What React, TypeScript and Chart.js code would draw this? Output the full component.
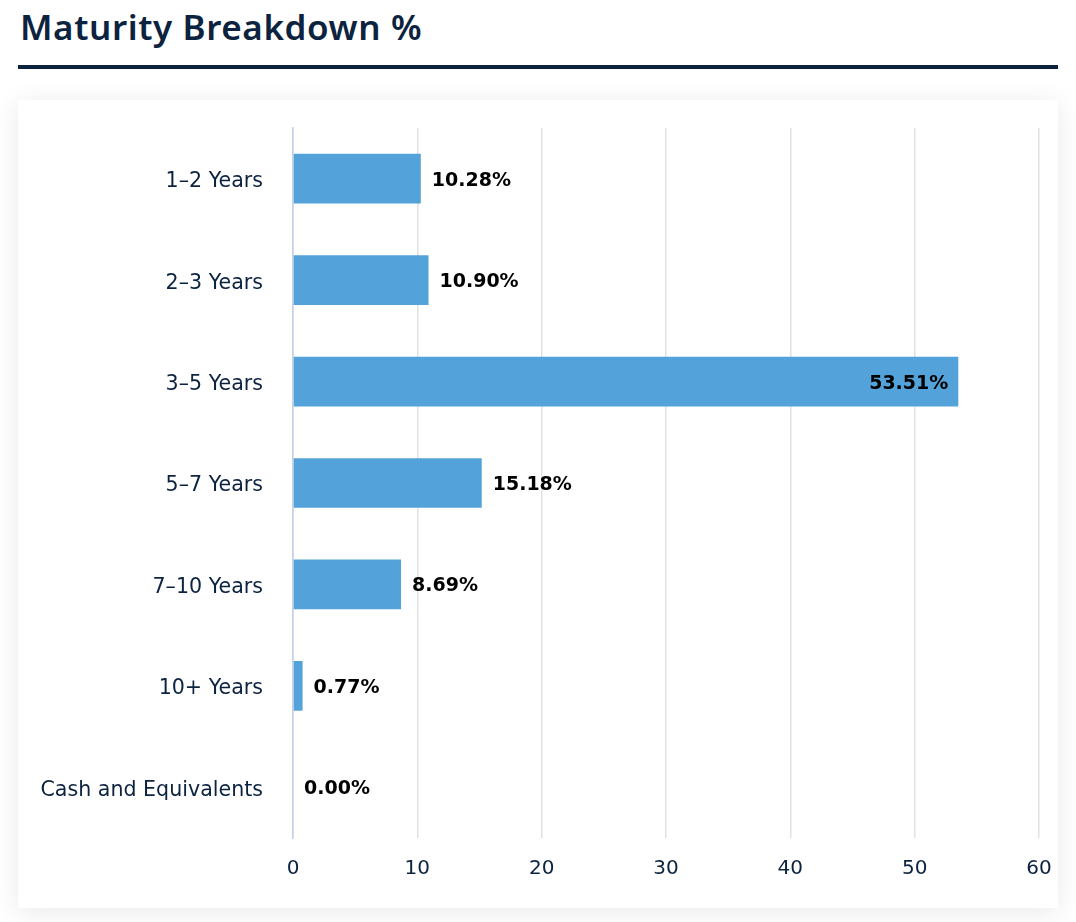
import React, { useEffect, useRef } from "react";
import { Chart, registerables } from "chart.js";

Chart.register(...registerables);

const categories = [
  "1–2 Years",
  "2–3 Years",
  "3–5 Years",
  "5–7 Years",
  "7–10 Years",
  "10+ Years",
  "Cash and Equivalents",
];
const values = [10.28, 10.9, 53.51, 15.18, 8.69, 0.77, 0.0];
const xMin = 0;
const xMax = 60;
const xStep = 10;

const NAVY = "#0c2340";
const BAR = "#53a3da";
const AXIS_FONT = "'DejaVu Sans', sans-serif";
const TITLE_FONT = "'Noto Sans', sans-serif";

const labelPlugin = {
  id: "valueLabels",
  afterDatasetsDraw(chart: any) {
    const { ctx, chartArea } = chart;
    const meta = chart.getDatasetMeta(0);
    ctx.save();
    ctx.font = "bold 19px " + AXIS_FONT;
    ctx.fillStyle = "#000";
    ctx.textBaseline = "middle";
    meta.data.forEach((bar: any, i: number) => {
      const text = values[i].toFixed(2) + "%";
      const w = ctx.measureText(text).width;
      const { x, y } = bar.getProps(["x", "y"], true);
      const gap = 11;
      if (x + gap + w > chartArea.right) {
        ctx.textAlign = "right";
        ctx.fillText(text, x - 10, y + 2);
      } else {
        ctx.textAlign = "left";
        ctx.fillText(text, x + gap, y + 2);
      }
    });
    ctx.restore();
  },
};

export default function App() {
  const ref = useRef<HTMLCanvasElement | null>(null);

  useEffect(() => {
    if (!ref.current) return;
    const chart = new Chart(ref.current, {
      type: "bar",
      data: {
        labels: categories,
        datasets: [
          {
            data: values,
            backgroundColor: BAR,
            borderWidth: 0,
            barPercentage: 0.49,
            categoryPercentage: 1,
          },
        ],
      },
      options: {
        indexAxis: "y",
        responsive: false,
        animation: false,
        devicePixelRatio: 1,
        layout: { padding: { left: 0, right: 19, top: 28, bottom: 0 } },
        plugins: {
          legend: { display: false },
          tooltip: { enabled: false },
        },
        scales: {
          x: {
            min: xMin,
            max: xMax,
            ticks: {
              stepSize: xStep,
              color: NAVY,
              padding: 0,
              font: { family: AXIS_FONT, size: 20 },
            },
            grid: {
              drawTicks: true,
              tickLength: 19,
              tickColor: "rgba(0,0,0,0)",
              lineWidth: 1.5,
              color: (c: any) => (c.tick && c.tick.value === 0 ? "#c6d1e4" : "#e1e1e1"),
            },
            border: { display: false },
            afterFit: (s: any) => {
              s.height = 70;
            },
          },
          y: {
            ticks: {
              color: NAVY,
              padding: 0,
              labelOffset: 3,
              font: { family: AXIS_FONT, size: 20.6 },
            },
            grid: { display: false, drawTicks: true, tickLength: 30 },
            border: { display: true, color: "#c6d1e4", width: 1.5 },
            afterFit: (s: any) => {
              s.width = 275;
            },
          },
        },
      },
      plugins: [labelPlugin],
    });
    return () => chart.destroy();
  }, []);

  return (
    <div
      style={{
        position: "fixed",
        left: 0,
        top: 0,
        width: 1076,
        height: 922,
        background: "#ffffff",
        overflow: "hidden",
      }}
    >
      <div
        style={{
          position: "absolute",
          left: 20,
          top: 3,
          fontFamily: TITLE_FONT,
          fontWeight: 600,
          fontSize: 35,
          letterSpacing: 0.6,
          color: NAVY,
          lineHeight: "48px",
        }}
      >
        Maturity Breakdown %
      </div>
      <div
        style={{
          position: "absolute",
          left: 18,
          top: 65,
          width: 1040,
          height: 4,
          background: NAVY,
        }}
      />
      <div
        style={{
          position: "absolute",
          left: 18,
          top: 100,
          width: 1040,
          height: 808,
          background: "#fff",
          boxShadow: "0 4px 26px rgba(0,0,0,0.09)",
        }}
      >
        <canvas ref={ref} width={1040} height={808} style={{ width: 1040, height: 808, display: "block" }} />
      </div>
    </div>
  );
}
